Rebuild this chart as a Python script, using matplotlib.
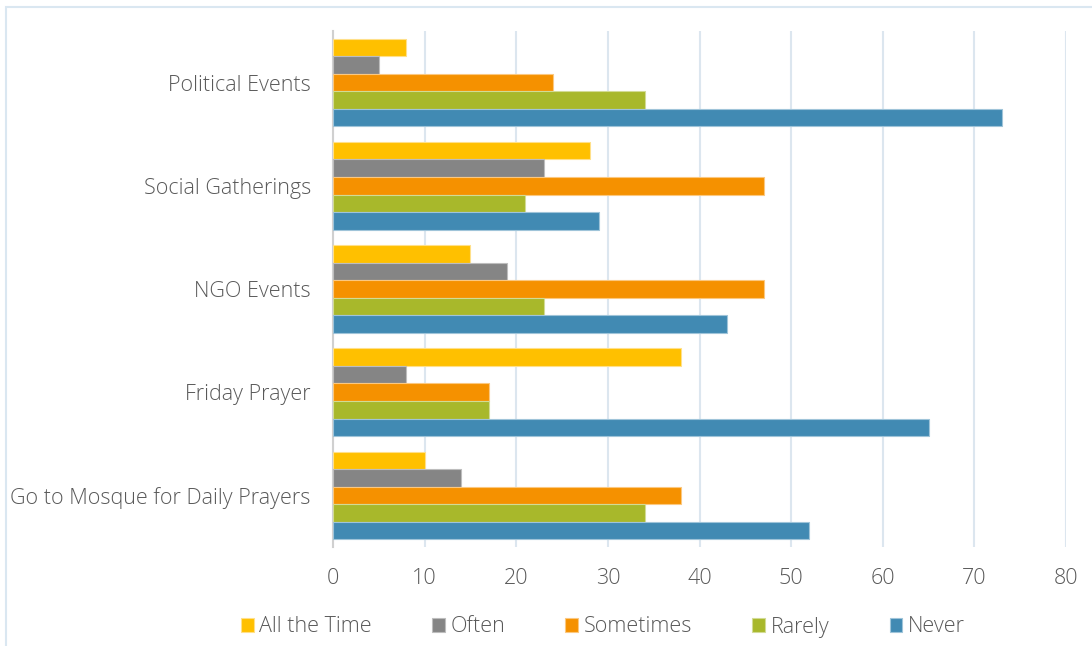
import matplotlib.pyplot as plt
import numpy as np
from matplotlib.patches import Rectangle

# categories from bottom to top (Excel draws the first one at the bottom)
categories = ['Go to Mosque for Daily Prayers', 'Friday Prayer', 'NGO Events',
              'Social Gatherings', 'Political Events']
series_names = ['All the Time', 'Often', 'Sometimes', 'Rarely', 'Never']
all_the_time = [10, 38, 15, 28, 8]
often = [14, 8, 19, 23, 5]
sometimes = [38, 17, 47, 47, 24]
rarely = [34, 17, 23, 21, 34]
never = [52, 65, 43, 29, 73]
colors = ['#FFC000', '#858585', '#F59100', '#A8B82B', '#418AB3']
edges = ['#FFE08A', '#BDBDBD', '#FBC880', '#D2DB95', '#9FC4D9']

plt.rcParams['font.family'] = ['Open Sans', 'DejaVu Sans']
plt.rcParams['font.weight'] = 'light'

fig = plt.figure(figsize=(10.92, 6.46), dpi=100)
ax = fig.add_axes([333/1092, 1-547/646, (1066-333)/1092, (547-31)/646])

# chart frame
fig.patches.append(Rectangle((6/1092, -0.01), 1.0, 1-7/646+0.01, transform=fig.transFigure,
                             fill=False, edgecolor='#DAE7F1', linewidth=1.5))

y = np.arange(len(categories))
n = len(series_names)
h = 0.85 / n
values = [all_the_time, often, sometimes, rarely, never]
for i, (name, vals) in enumerate(zip(series_names, values)):
    offset = (n - 1) / 2 * h - i * h
    ax.barh(y + offset, vals, height=h, color=colors[i], edgecolor=edges[i],
            linewidth=0.8, label=name, zorder=3)

ax.set_xlim(0, 80)
ax.set_ylim(-0.5, len(categories) - 0.5)
ax.set_xticks(np.arange(0, 81, 10))
ax.set_yticks(y)
ax.set_yticklabels(categories)
ax.grid(axis='x', color='#DCE6EF', linewidth=1.5, zorder=0)
for s in ['top', 'right', 'bottom']:
    ax.spines[s].set_visible(False)
ax.spines['left'].set_color('#D0D0D0')
ax.spines['left'].set_linewidth(1.5)
ax.tick_params(axis='both', length=0, labelsize=15.5, labelcolor='#595959')
ax.tick_params(axis='y', pad=16)
ax.tick_params(axis='x', pad=15)

fig.legend(loc='center', bbox_to_anchor=(0.552, 1-627/646), ncol=5, frameon=False,
           fontsize=15.5, labelcolor='#595959', handlelength=0.6, handleheight=0.6,
           handletextpad=0.25, columnspacing=2.8)

plt.savefig('out.png', dpi=100)
